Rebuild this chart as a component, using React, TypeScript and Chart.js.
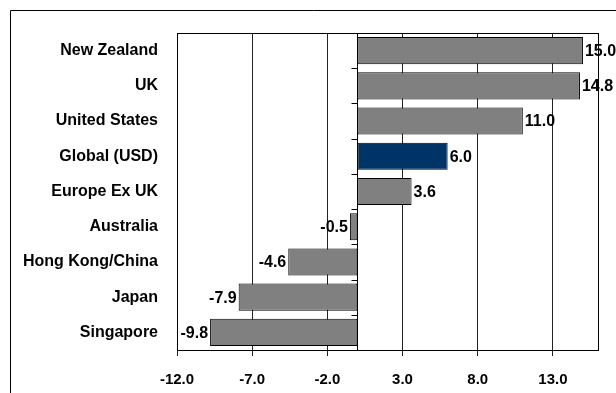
import React, { useEffect, useRef } from "react";
import { Chart, registerables } from "chart.js";

Chart.register(...registerables);

const categories = [
  "New Zealand",
  "UK",
  "United States",
  "Global (USD)",
  "Europe Ex UK",
  "Australia",
  "Hong Kong/China",
  "Japan",
  "Singapore",
];
const values = [15.0, 14.8, 11.0, 6.0, 3.6, -0.5, -4.6, -7.9, -9.8];
const tickValues = [-12, -7, -2, 3, 8, 13];
const highlight = "Global (USD)";

const FONT = "'Liberation Sans', Arial, sans-serif";

const framePlugin = {
  id: "framePlugin",
  afterDraw(chart: any) {
    const ctx = chart.ctx;
    const a = chart.chartArea;
    const x0 = chart.scales.x.getPixelForValue(0);
    ctx.save();
    ctx.strokeStyle = "#000";
    ctx.lineWidth = 1;
    // outer frame
    ctx.beginPath();
    ctx.moveTo(10.5, chart.height);
    ctx.lineTo(10.5, 10.5);
    ctx.lineTo(chart.width, 10.5);
    ctx.stroke();
    // plot frame
    ctx.strokeRect(Math.round(a.left) + 0.5, Math.round(a.top) + 0.5, Math.round(a.right - a.left), Math.round(a.bottom - a.top));
    // zero axis
    const zx = Math.round(x0) + 0.5;
    ctx.beginPath();
    ctx.moveTo(zx, a.top);
    ctx.lineTo(zx, a.bottom);
    const n = categories.length;
    const step = (a.bottom - a.top) / n;
    for (let i = 0; i <= n; i++) {
      const y = Math.round(a.top + i * step) + 0.5;
      ctx.moveTo(zx - 6, y);
      ctx.lineTo(zx, y);
    }
    ctx.stroke();
    // value labels
    ctx.fillStyle = "#000";
    ctx.font = `bold 16px ${FONT}`;
    ctx.textBaseline = "middle";
    const meta = chart.getDatasetMeta(0);
    meta.data.forEach((bar: any, i: number) => {
      const v = values[i];
      const txt = v.toFixed(1);
      if (v >= 0) {
        ctx.textAlign = "left";
        ctx.fillText(txt, bar.x + 2, bar.y + 1);
      } else {
        ctx.textAlign = "right";
        ctx.fillText(txt, bar.x - 2, bar.y + 1);
      }
    });
    ctx.restore();
  },
};

export default function App() {
  const ref = useRef<HTMLCanvasElement>(null);
  useEffect(() => {
    if (!ref.current) return;
    const chart = new Chart(ref.current, {
      type: "bar",
      data: {
        labels: categories,
        datasets: [
          {
            data: values,
            backgroundColor: categories.map((c) => (c === highlight ? "#003366" : "#808080")),
            borderColor: "#000",
            borderWidth: 1,
            borderSkipped: false,
            barPercentage: 0.77,
            categoryPercentage: 1,
          },
        ],
      },
      options: {
        indexAxis: "y",
        responsive: false,
        animation: false,
        devicePixelRatio: 1,
        layout: { padding: { left: 0, top: 33, right: 18, bottom: 0 } },
        plugins: { legend: { display: false }, tooltip: { enabled: false } },
        scales: {
          x: {
            min: -12,
            max: 16,
            afterBuildTicks: (scale: any) => {
              scale.ticks = tickValues.map((v) => ({ value: v }));
            },
            afterFit: (scale: any) => {
              scale.height = 43;
            },
            grid: { color: "#222", lineWidth: 1, tickLength: 6, drawTicks: true },
            border: { display: true, color: "#000" },
            ticks: {
              color: "#000",
              font: { family: FONT, size: 15, weight: "bold" },
              padding: 15,
              maxRotation: 0,
              callback: (v: any) => Number(v).toFixed(1),
            },
          },
          y: {
            afterFit: (scale: any) => {
              scale.width = 177;
            },
            grid: { display: false, drawTicks: false },
            border: { display: false },
            ticks: {
              color: "#000",
              font: { family: FONT, size: 16, weight: "bold" },
              padding: 19,
            },
          },
        },
      },
      plugins: [framePlugin],
    });
    return () => chart.destroy();
  }, []);
  return (
    <div style={{ position: "fixed", left: 0, top: 0, width: 616, height: 393, background: "#fff" }}>
      <canvas ref={ref} width={616} height={393} style={{ display: "block" }} />
    </div>
  );
}
